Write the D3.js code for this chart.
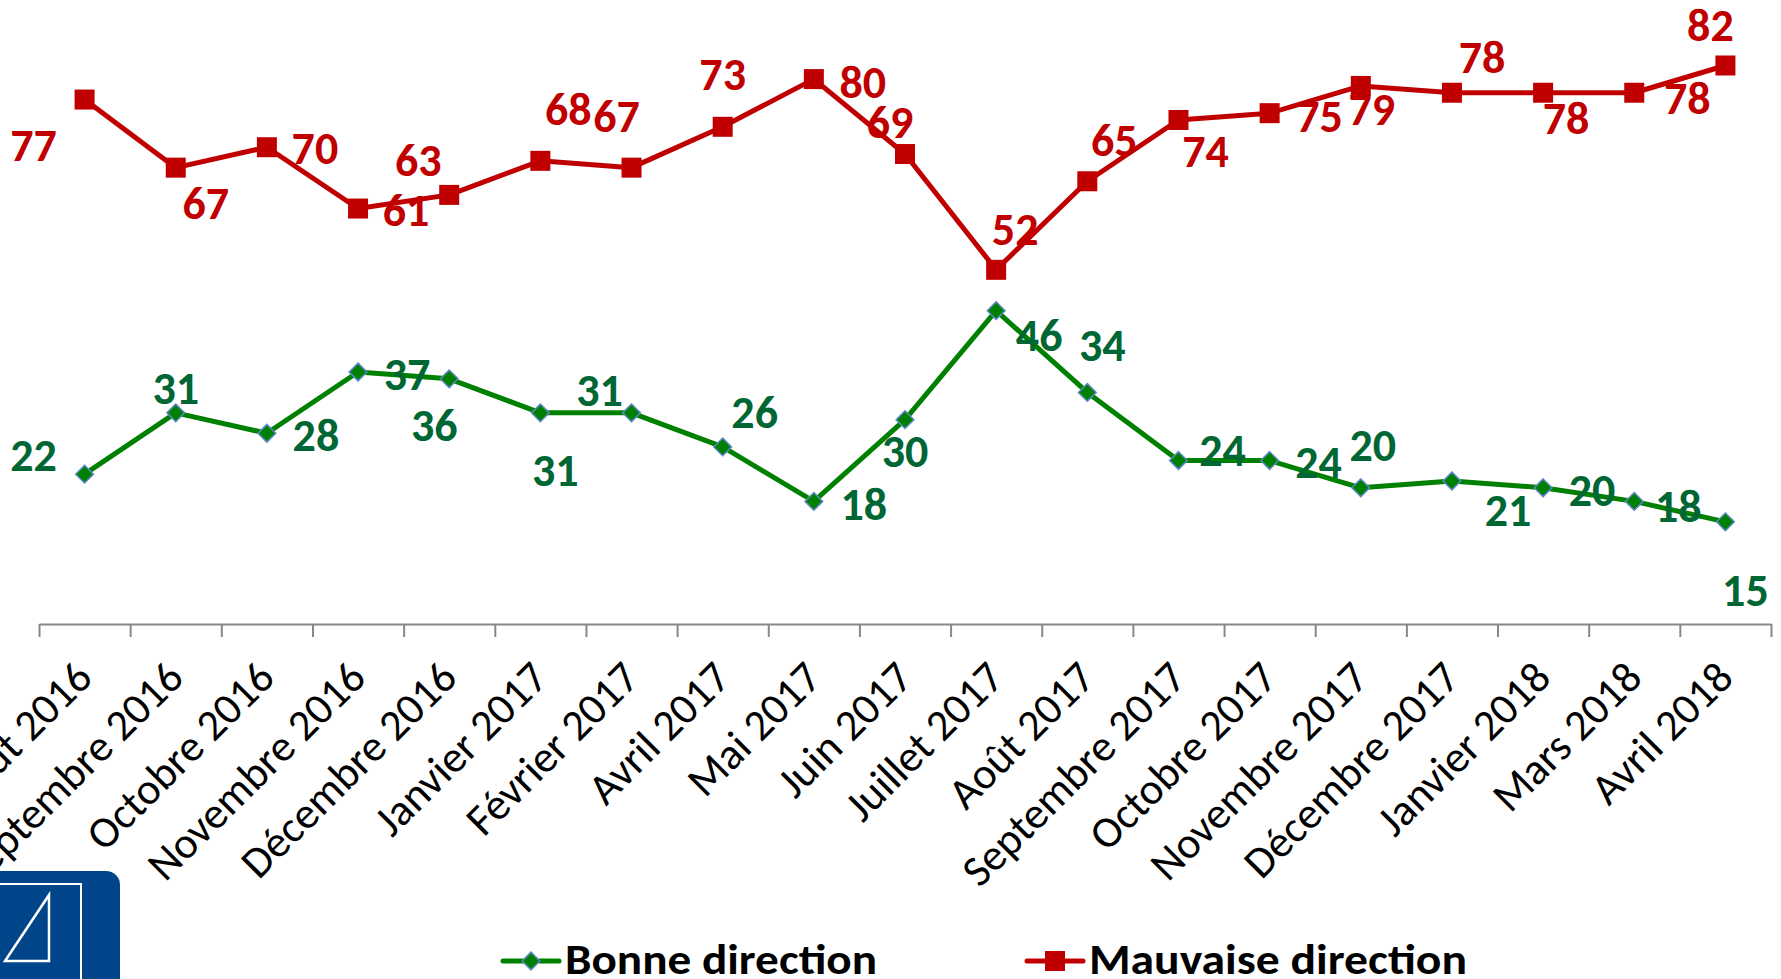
<!DOCTYPE html>
<html>
<head>
<meta charset="utf-8">
<script src="https://cdn.jsdelivr.net/npm/d3@7"></script>
<style>
  body { margin: 0; background: #fff; }
  svg { display: block; }
</style>
</head>
<body>
<div id="container"></div>
<script>
/* DATA */
const months = ["Août 2016", "Septembre 2016", "Octobre 2016", "Novembre 2016", "Décembre 2016",
  "Janvier 2017", "Février 2017", "Avril 2017", "Mai 2017", "Juin 2017", "Juillet 2017",
  "Août 2017", "Septembre 2017", "Octobre 2017", "Novembre 2017", "Décembre 2017",
  "Janvier 2018", "Mars 2018", "Avril 2018"];
const bonne = [22, 31, 28, 37, 36, 31, 31, 26, 18, 30, 46, 34, 24, 24, 20, 21, 20, 18, 15];
const mauvaise = [77, 67, 70, 61, 63, 68, 67, 73, 80, 69, 52, 65, 74, 75, 79, 78, 78, 78, 82];
const seriesNames = ["Bonne direction", "Mauvaise direction"];

// label nudges (px) the way they sit in the original chart
const bonneOffsets = [[-51,-18],[0,-24],[49,3],[49,3],[-15,47],[15,58],[-32,-22],[32,-34],[50,3],[0,32],
  [43,25],[15,-47],[44,-10],[49,2],[12,-42],[56,30],[49,3],[44,5],[20,69]];
const mauvaiseOffsets = [[-51,46],[30,36],[48,2],[48,2],[-31,-34],[28,-51],[-15,-51],[0,-52],[49,4],[-15,-31],
  [19,-40],[27,-40],[27,32],[50,4],[11,24],[30,-35],[23,26],[53,6],[-15,-40]];

/* CONSTANTS */
const width = 1781, height = 979;
const axisY = 624;
const font = "Carlito, Calibri, 'Open Sans', sans-serif";

const svg = d3.select("#container")
  .append("svg")
  .attr("width", width)
  .attr("height", height);

/* SCALES */
const x = d3.scaleBand()
  .domain(months)
  .range([39, 1771]);

const xEdge = d3.scaleLinear()
  .domain([0, months.length])
  .range([39, 1771]);

const y = d3.scaleLinear()
  .domain([0, 90])
  .range([axisY, 11]);

const cx = d => x(d) + x.bandwidth() / 2;

/* AXIS */
const axis = svg.append("g")
  .attr("transform", "translate(0," + axisY + ")")
  .call(d3.axisBottom(xEdge).tickValues(d3.range(months.length + 1)).tickSize(13).tickSizeOuter(0).tickFormat(""));
axis.selectAll("path, line").attr("stroke", "#888").attr("stroke-width", 2);

svg.append("g")
  .selectAll("text")
  .data(months)
  .join("text")
  .attr("transform", d => "translate(" + (cx(d) + 10) + "," + (axisY + 56) + ") rotate(-45)")
  .attr("text-anchor", "end")
  .style("font-family", font)
  .style("font-size", "44px")
  .style("fill", "#000")
  .text(d => d);

/* LINES */
const line = d3.line()
  .x((d, i) => cx(months[i]))
  .y(d => y(d));

svg.append("path")
  .datum(mauvaise)
  .attr("d", line)
  .attr("fill", "none")
  .attr("stroke", "#c00000")
  .attr("stroke-width", 5)
  .attr("stroke-linejoin", "round");

svg.append("path")
  .datum(bonne)
  .attr("d", line)
  .attr("fill", "none")
  .attr("stroke", "#008000")
  .attr("stroke-width", 5)
  .attr("stroke-linejoin", "round");

/* MARKERS */
const sq = 20;
svg.append("g")
  .selectAll("rect")
  .data(mauvaise)
  .join("rect")
  .attr("x", (d, i) => cx(months[i]) - sq / 2)
  .attr("y", d => y(d) - sq / 2)
  .attr("width", sq)
  .attr("height", sq)
  .attr("fill", "#c00000");

const diamond = d3.symbol().type(d3.symbolDiamond2).size(200);
svg.append("g")
  .selectAll("path")
  .data(bonne)
  .join("path")
  .attr("transform", (d, i) => "translate(" + cx(months[i]) + "," + y(d) + ")")
  .attr("d", diamond)
  .attr("fill", "#008000")
  .attr("stroke", "#5b87c8")
  .attr("stroke-width", 1.5);

/* DATA LABELS */
function labels(values, offsets, color) {
  svg.append("g")
    .selectAll("text")
    .data(values)
    .join("text")
    .attr("x", (d, i) => cx(months[i]) + offsets[i][0])
    .attr("y", (d, i) => y(d) + offsets[i][1])
    .attr("text-anchor", "middle")
    .attr("dy", "0.33em")
    .style("font-family", font)
    .style("font-weight", "bold")
    .style("font-size", "46px")
    .style("fill", color)
    .text(d => d);
}
labels(mauvaise, mauvaiseOffsets, "#c00000");
labels(bonne, bonneOffsets, "#006633");

/* LEGEND */
const legY = 961;
const leg = [
  {x0: 503, x1: 559, len: 312, color: "#008000"},
  {x0: 1027, x1: 1083, len: 378, color: "#c00000"}
];
leg.forEach((l, i) => {
  svg.append("line")
    .attr("x1", l.x0).attr("x2", l.x1)
    .attr("y1", legY).attr("y2", legY)
    .attr("stroke", l.color)
    .attr("stroke-width", 5)
    .attr("stroke-linecap", "round");
  if (i === 0) {
    svg.append("path")
      .attr("transform", "translate(" + ((l.x0 + l.x1) / 2) + "," + legY + ")")
      .attr("d", diamond)
      .attr("fill", "#008000")
      .attr("stroke", "#5b87c8")
      .attr("stroke-width", 1.5);
  } else {
    svg.append("rect")
      .attr("x", (l.x0 + l.x1) / 2 - sq / 2)
      .attr("y", legY - sq / 2)
      .attr("width", sq).attr("height", sq)
      .attr("fill", "#c00000");
  }
  svg.append("text")
    .attr("x", l.x1 + 6)
    .attr("y", 974)
    .attr("textLength", l.len)
    .attr("lengthAdjust", "spacingAndGlyphs")
    .style("font-family", font)
    .style("font-weight", "bold")
    .style("font-size", "43px")
    .style("fill", "#000")
    .text(seriesNames[i]);
});

/* LOGO */
const logo = svg.append("g");
logo.append("rect")
  .attr("x", -20).attr("y", 871)
  .attr("width", 140).attr("height", 140)
  .attr("rx", 14)
  .attr("fill", "#00458a");
logo.append("rect")
  .attr("x", -10).attr("y", 884)
  .attr("width", 91).attr("height", 110)
  .attr("fill", "none")
  .attr("stroke", "#fff")
  .attr("stroke-width", 2);
logo.append("path")
  .attr("d", "M5,961 L49,895 L49,961 Z")
  .attr("fill", "none")
  .attr("stroke", "#fff")
  .attr("stroke-width", 2.5);
</script>
</body>
</html>
